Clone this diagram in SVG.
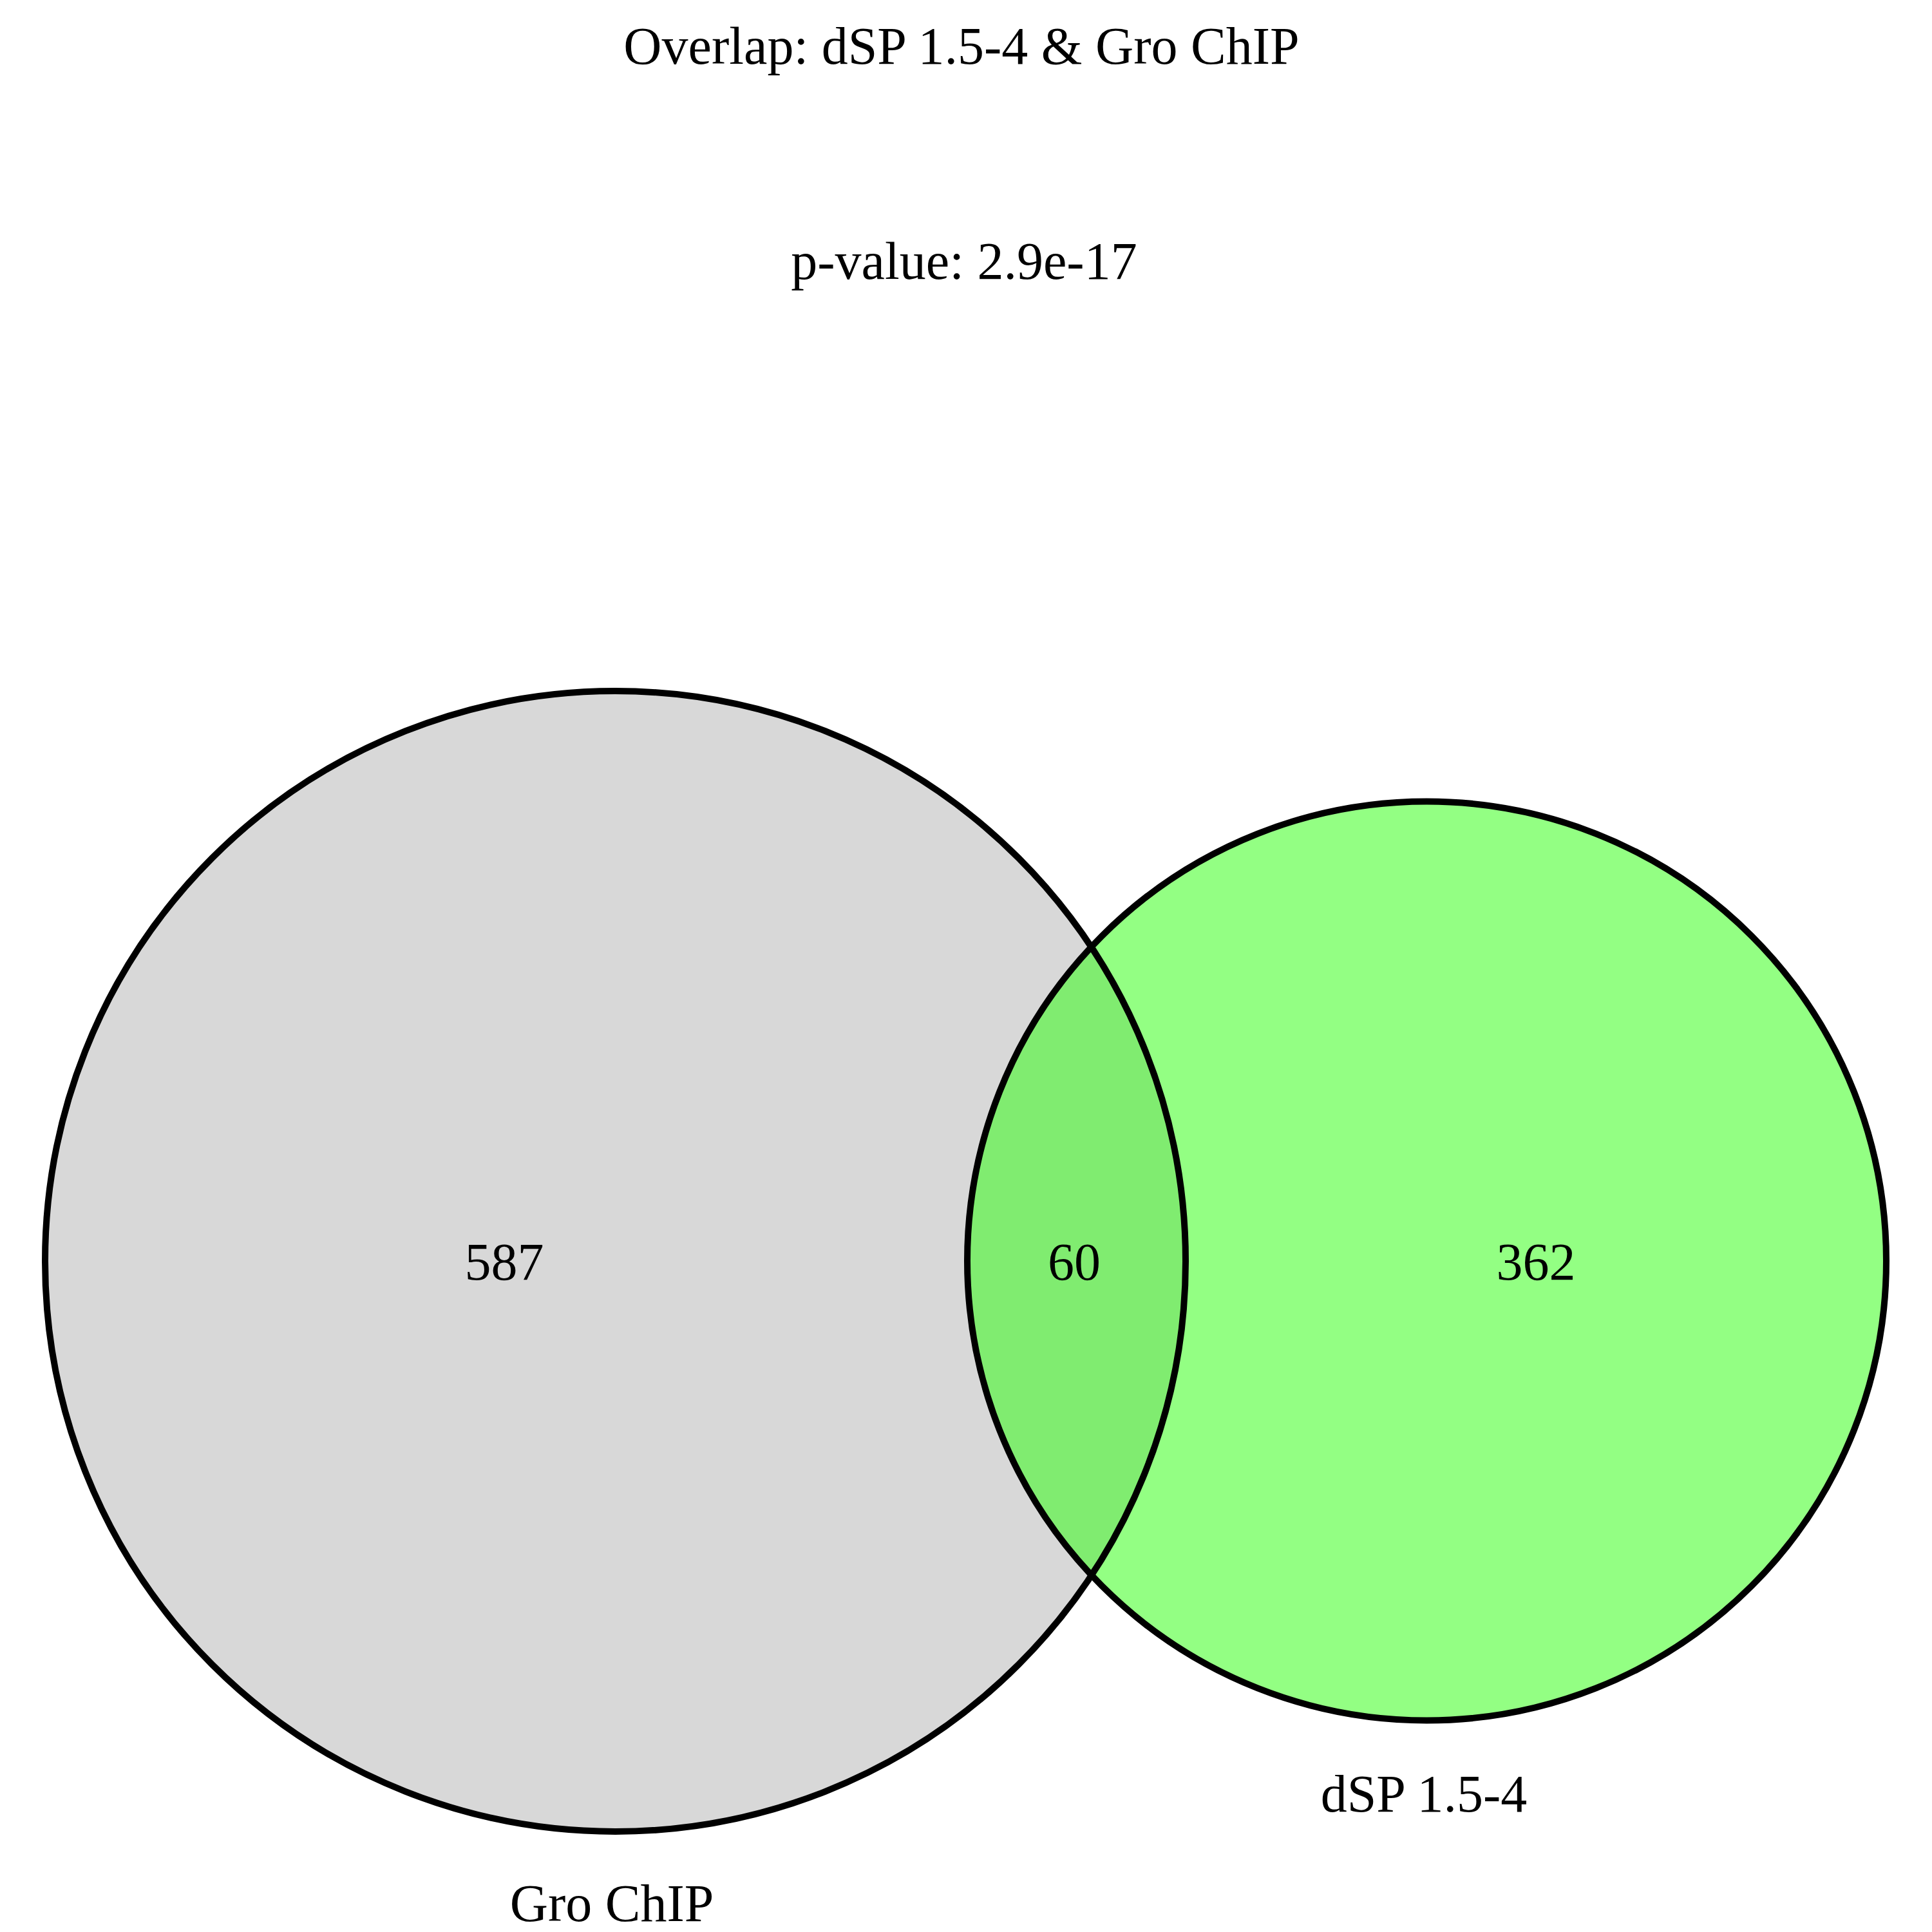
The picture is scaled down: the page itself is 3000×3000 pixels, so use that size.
<svg xmlns="http://www.w3.org/2000/svg" width="3000" height="3000" viewBox="0 0 3000 3000">
<style>
.t{font-family:"Liberation Serif","Times New Roman",serif;font-size:82px;fill:#000;text-anchor:middle}
.edge{fill:none;stroke:#000;stroke-width:10}
</style>
<rect width="3000" height="3000" fill="#fff"/>
<g id="set-gro">
<circle cx="955.5" cy="1958.5" r="885.5" fill="#d8d8d8"/>
</g>
<g id="set-dsp">
<circle cx="2215.5" cy="1958" r="713.5" fill="rgb(39,255,7)" fill-opacity="0.5"/>
</g>
<g id="outlines">
<circle class="edge" cx="955.5" cy="1958.5" r="885.5"/>
<circle class="edge" cx="2215.5" cy="1958" r="713.5"/>
</g>
<g id="labels">
<text class="t" x="1493" y="99">Overlap: dSP 1.5-4 &amp; Gro ChIP</text>
<text class="t" x="1497" y="433">p-value: 2.9e-17</text>
<text class="t" x="783" y="1987">587</text>
<text class="t" x="1668" y="1987">60</text>
<text class="t" x="2385" y="1987">362</text>
<text class="t" x="950" y="2983">Gro ChIP</text>
<text class="t" x="2211" y="2813">dSP 1.5-4</text>
</g>
</svg>
